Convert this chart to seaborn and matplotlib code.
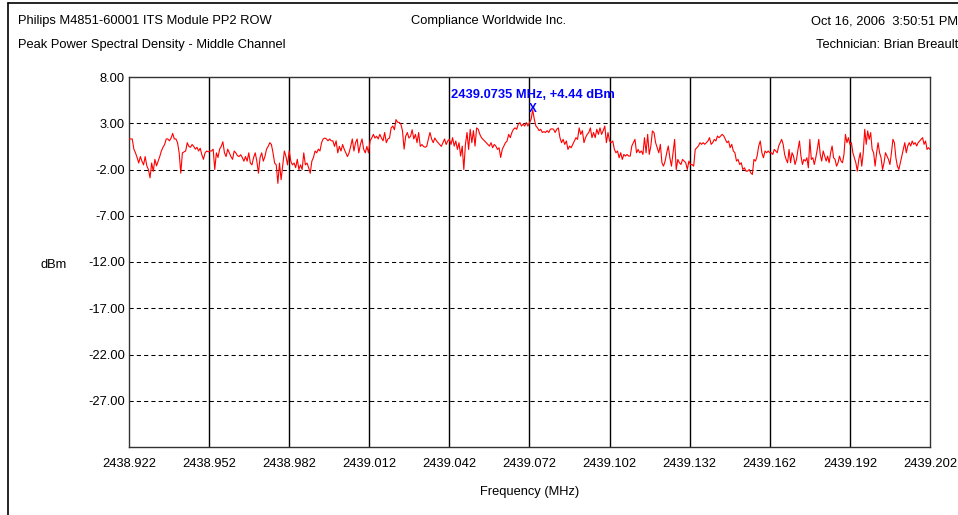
import numpy as np
import pandas as pd
import matplotlib
matplotlib.use("Agg")
import matplotlib.pyplot as plt
from matplotlib.lines import Line2D
import seaborn as sns

# ---- data (dBm readings, five spans of two grid cells each) ----
seg1 = [1.3, 1.3, 1.3, 0.2, -0.2, -0.7, -1.3, -0.6, -1.1, -1.5, -0.6, -1.6, -2.0, -2.9, -1.3,
        -2.2, -0.9, -1.6, -1.1, -0.6, 0.0, 0.4, 0.7, 1.3, 1.3, 1.1, 1.4, 1.9, 1.3, 1.3, 0.9,
        -0.2, -2.4, -0.2, -0.1, 0.0, 0.9, 0.5, 0.4, 0.7, 0.5, 0.2, 0.4, 0.0, 0.3, -0.4, -0.9,
        -0.2, 0.0, -0.1, 0.0, 0.0, 0.2, -2.0, -0.2, -0.7, 0.2, 0.5, 1.0, -0.2, -0.6, 0.2, -0.2,
        -0.6, -0.9, 0.0, -0.2, -0.5, -0.6, -0.4, -0.7, -1.1, -0.6, -1.1, -0.2, -1.3, -1.5, -0.7,
        -0.2, -1.1, -2.4, -0.7, -0.2, -1.1, -0.6, 0.2, 0.5, 0.9, 0.7, -0.2, -1.3, -1.5, -3.5,
        -1.3, -3.1, -1.6, 0.0, -0.6, -1.5]
seg2 = [0.0, -1.1, -1.5, -1.3, -1.8, -0.9, -2.0, -1.5, -2.0, -0.2, -1.5, -1.3, -1.8, -2.4, -1.1,
        -0.7, 0.0, -0.2, 0.2, 0.0, 0.9, 1.3, 1.4, 1.3, 1.1, 1.3, 1.1, 1.1, 0.5, 1.1, -0.2, 0.5,
        0.0, 0.7, 0.2, -0.2, -0.6, -0.2, 0.5, 1.3, 0.0, 0.9, 1.3, -0.2, 0.7, 1.3, 0.2, -0.2, 0.5,
        -0.2, 1.1, 1.4, 1.8, 1.4, 1.6, 1.3, 1.8, 1.4, 1.1, 2.0, 0.9, 1.3, 1.4, 2.5, 2.7, 2.3,
        3.4, 3.1, 3.1, 2.9, 2.2, 0.2, 1.6, 2.0, 1.4, 1.6, 2.3, 1.3, 1.8, 0.9, 2.0, 0.5, 0.7, 0.5,
        0.4, 0.5, 1.3, 2.0, 1.3, 0.9, 1.4, 1.1, 0.9, 0.7, 0.5, 0.9, 1.3, 0.7, 1.1]
seg3 = [1.26, 0.71, 1.44, 0.53, 1.08, 0.17, 0.9, -0.55, 0.53, -2.0, 0.71, 2.0, 0.17, 2.35, 0.9,
        2.2, 0.53, 2.5, 2.35, 1.8, 1.44, 1.26, 1.08, 0.9, 0.71, 0.53, 0.9, 0.35, 0.71, 0.53, 0.17,
        0.35, -0.7, 0.17, 0.53, 0.9, 1.08, 1.8, 1.44, 2.0, 2.35, 2.5, 2.35, 2.9, 3.07, 2.7, 2.9,
        2.7, 3.07, 2.7, 3.07, 3.43, 4.44, 3.43, 2.7, 2.5, 2.2, 2.35, 2.0, 2.1, 2.0, 2.2, 2.0,
        2.35, 2.4, 2.35, 2.0, 2.35, 2.5, 1.44, 0.9, 1.26, 0.71, 1.08, 0.17, 0.53, 0.35, 0.71,
        1.08, 1.44, 1.26, 2.5, 1.8, 2.2, 0.9, 1.44, 1.8, 2.0, 2.5, 1.44, 2.0, 1.44, 2.35, 1.8,
        2.5, 1.8, 2.2, 2.7, 0.9, 2.0]
seg4 = [1.08, 0.9, 1.08, 0.17, -0.19, 0.0, -0.73, -0.19, -0.91, -0.37, -0.55, -0.37, -0.55,
        -0.55, 0.54, 0.9, 1.26, -0.19, 0.17, -0.19, 0.0, -0.37, 1.44, -0.19, 1.8, -0.37, 0.54,
        2.17, 1.99, 0.9, 0.36, -0.19, 0.72, -1.27, -1.64, -1.09, -0.19, 0.54, -0.73, -1.64,
        -0.19, 1.26, -2.0, -0.91, -1.27, -1.46, -0.91, -1.09, -1.27, -2.0, -1.09, -1.46, -1.46,
        -1.64, 0.17, 0.36, 0.54, 0.9, 0.72, 0.9, 0.72, 0.9, 1.08, 1.44, 0.72, 0.9, 1.26, 1.08,
        1.62, 1.44, 1.62, 1.8, 1.62, 1.26, 0.9, 1.08, 0.36, 0.72, 0.0, -0.19, -1.09, -0.91,
        -1.46, -1.27, -2.0, -1.82, -2.18, -2.18, -2.0, -2.36, -2.54, -0.91, -1.09, -0.55, 0.54,
        1.08, -0.19, -0.73, 0.0, -0.19, 0.0]
seg5 = [-0.19, -0.19, -0.37, 0.17, 0.0, -0.19, 0.54, 0.9, 1.26, 0.72, -0.37, -0.91, -1.27, 0.17,
        -1.27, -0.19, -0.55, -1.46, -0.91, 0.17, 1.08, -0.55, -1.46, -0.91, -1.09, -0.73, -1.82,
        1.26, -0.91, -0.73, -1.46, -0.73, 0.17, 1.26, -0.37, -1.09, 0.0, -0.55, -1.09, -0.55,
        -1.27, -0.19, 0.54, -0.73, -0.91, -1.64, -1.27, -0.55, -1.09, -1.27, -0.37, 1.8, 0.9,
        1.44, 0.72, 0.9, -0.19, -0.73, -1.27, -2.18, -0.91, -0.19, -1.64, -0.19, 2.35, 0.72,
        2.17, 1.26, 1.99, 0.17, -0.19, -1.64, -0.19, 0.9, -0.19, -0.73, -2.0, -1.27, -0.19,
        -0.55, -0.91, -1.46, -0.19, 1.26, 0.9, -0.73, -1.64, -2.0, -1.27, -0.55, 0.17, 0.9,
        -0.19, 0.54, 0.9, 0.54, 1.08, 0.72, 0.9, 0.54, 0.9, 1.08, 1.26, 1.44, 0.72, 1.08, 0.17,
        0.36, 0.17]

x_tick_labels = ["2438.922", "2438.952", "2438.982", "2439.012", "2439.042", "2439.072",
                 "2439.102", "2439.132", "2439.162", "2439.192", "2439.202"]
y_ticks = [8, 3, -2, -7, -12, -17, -22, -27]
f_start, f_stop = 2438.922, 2439.202
peak_label = "2439.0735 MHz, +4.44 dBm"

# ---- build frame ----
segs = [seg1, seg2, seg3, seg4, seg5]
edges = np.linspace(f_start, f_stop, len(segs) + 1)
freqs, vals = [], []
for i, s in enumerate(segs):
    last = i == len(segs) - 1
    freqs.append(np.linspace(edges[i], edges[i + 1], len(s), endpoint=last))
    vals.append(np.array(s, dtype=float))
df = pd.DataFrame({"freq": np.concatenate(freqs), "dbm": np.concatenate(vals)})

# ---- figure ----
sns.set_style("white")
plt.rcParams["font.family"] = ["Liberation Sans", "DejaVu Sans"]
W, H = 958, 515
FS = 9.3
fig = plt.figure(figsize=(W / 100, H / 100), dpi=100)
ax = fig.add_axes([129 / W, 1 - 447 / H, (930 - 129) / W, (447 - 77) / H])

sns.lineplot(data=df, x="freq", y="dbm", color="#ff0000", linewidth=0.8, ax=ax, zorder=5)

ax.set_xlim(f_start, f_stop)
ax.set_ylim(-32, 8)
xt = np.linspace(f_start, f_stop, len(x_tick_labels))
ax.set_xticks(xt)
ax.set_xticklabels(x_tick_labels)
ax.set_yticks(y_ticks)
ax.set_yticklabels([f"{v:.2f}" for v in y_ticks])
ax.tick_params(axis="both", length=0, labelsize=FS, colors="#000000")
ax.tick_params(axis="y", pad=3)
ax.tick_params(axis="x", pad=8)
ax.set_xlabel("")
ax.set_ylabel("")

for x in xt[1:-1]:
    ax.axvline(x, color="#000000", linewidth=1.0, zorder=1)
for y in y_ticks[1:]:
    ax.axhline(y, color="#000000", linewidth=0.75, linestyle=(0, (4, 3)), zorder=1)

for sp in ax.spines.values():
    sp.set_color("#333333")
    sp.set_linewidth(1.0)

# peak annotation
ipk = int(df["dbm"].idxmax())
pf, pv = df.loc[ipk, "freq"], df.loc[ipk, "dbm"]
ax.annotate("X", xy=(pf, pv), xytext=(0, 0.5), textcoords="offset points",
            ha="center", va="center", color="#0000ff", fontsize=8.5, fontweight="bold", zorder=6)
ax.annotate(peak_label, xy=(pf, pv), xytext=(0, 11), textcoords="offset points",
            ha="center", va="center", color="#0000ff", fontsize=FS, fontweight="bold", zorder=6)

# header / labels
def ftxt(x, y, s, ha="left", **kw):
    fig.text(x / W, 1 - y / H, s, ha=ha, va="center", fontsize=FS, color="#000000", **kw)

ftxt(18, 21, "Philips M4851-60001 ITS Module PP2 ROW")
ftxt(18, 45, "Peak Power Spectral Density - Middle Channel")
ftxt(489, 21, "Compliance Worldwide Inc.", ha="center")
ftxt(811, 21, "Oct 16, 2006  3:50:51 PM")
ftxt(816, 45, "Technician: Brian Breault")
ftxt(54, 265, "dBm", ha="center")
ftxt(530, 492, "Frequency (MHz)", ha="center")

# outer frame
fig.add_artist(Line2D([8 / W, 8 / W], [0, 1 - 3 / H], color="#000000", linewidth=1.2))
fig.add_artist(Line2D([8 / W, 1], [1 - 3 / H, 1 - 3 / H], color="#000000", linewidth=1.2))

fig.savefig("out.png", dpi=100)
